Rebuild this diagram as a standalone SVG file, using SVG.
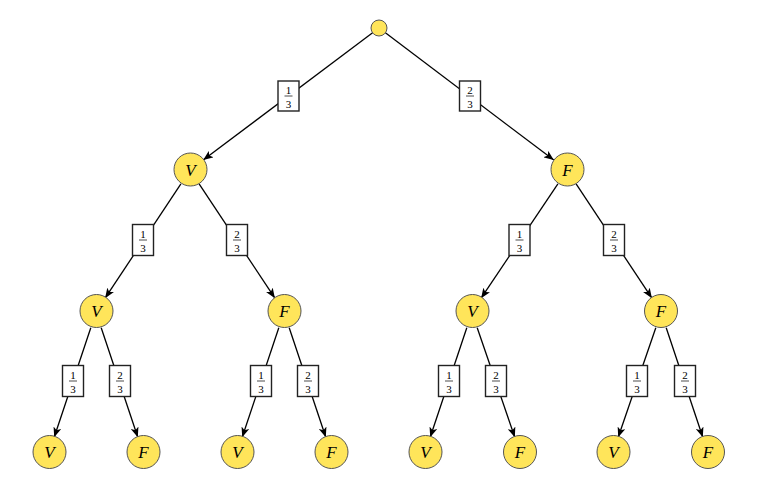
<svg xmlns="http://www.w3.org/2000/svg" width="763" height="488" viewBox="0 0 763 488">
<defs>
<marker id="arr" viewBox="0 0 10 8" refX="10" refY="4" markerWidth="10" markerHeight="8" markerUnits="userSpaceOnUse" orient="auto">
<path d="M0,0 L10,4 L0,8 L2.5,4 Z" fill="#000"/>
</marker>
</defs>
<style>
.n circle{fill:#FFE55A;stroke:#555;stroke-width:1}
.n text{font-family:"Liberation Serif",serif;font-style:italic;font-size:17px;text-anchor:middle;fill:#000}
.e line{stroke:#000;stroke-width:1.3;marker-end:url(#arr)}
.lb rect{fill:#fff;stroke:#222;stroke-width:1.4}
.lb text{font-family:"Liberation Serif",serif;font-size:11px;text-anchor:middle;fill:#000}
.lb line{stroke:#000;stroke-width:0.7}
</style>
<g id="connectors" class="e">
<line x1="372.6" y1="32.8" x2="203.2" y2="160.1"/>
<line x1="385.4" y1="32.8" x2="553.8" y2="160.1"/>
<line x1="180.9" y1="183.8" x2="105.1" y2="298.2"/>
<line x1="199.1" y1="183.8" x2="274.9" y2="298.2"/>
<line x1="557.9" y1="183.8" x2="481.1" y2="298.2"/>
<line x1="576.1" y1="183.8" x2="651.9" y2="298.2"/>
<line x1="90.8" y1="327.7" x2="54.2" y2="437.3"/>
<line x1="101.2" y1="327.7" x2="137.8" y2="437.3"/>
<line x1="278.8" y1="327.7" x2="242.2" y2="437.3"/>
<line x1="289.2" y1="327.7" x2="325.8" y2="437.3"/>
<line x1="466.8" y1="327.7" x2="430.2" y2="437.3"/>
<line x1="477.2" y1="327.7" x2="514.8" y2="437.3"/>
<line x1="655.8" y1="327.7" x2="618.2" y2="437.3"/>
<line x1="666.2" y1="327.7" x2="702.8" y2="437.3"/>
</g>
<g id="labels">
<g id="l-r1" class="lb" transform="translate(288.5,96)"><rect x="-10.5" y="-15" width="21" height="30"/><text y="-2.5">1</text><line x1="-4" x2="4" y1="0" y2="0"/><text y="11.5">3</text></g>
<g id="l-r2" class="lb" transform="translate(470,96)"><rect x="-10.5" y="-15" width="21" height="30"/><text y="-2.5">2</text><line x1="-4" x2="4" y1="0" y2="0"/><text y="11.5">3</text></g>
<g id="l-a1" class="lb" transform="translate(143,240)"><rect x="-10.5" y="-15.5" width="21" height="31"/><text y="-2.5">1</text><line x1="-4" x2="4" y1="0" y2="0"/><text y="11.5">3</text></g>
<g id="l-a2" class="lb" transform="translate(237,240)"><rect x="-10.5" y="-15.5" width="21" height="31"/><text y="-2.5">2</text><line x1="-4" x2="4" y1="0" y2="0"/><text y="11.5">3</text></g>
<g id="l-b1" class="lb" transform="translate(519.5,240)"><rect x="-10.5" y="-15.5" width="21" height="31"/><text y="-2.5">1</text><line x1="-4" x2="4" y1="0" y2="0"/><text y="11.5">3</text></g>
<g id="l-b2" class="lb" transform="translate(614,240)"><rect x="-10.5" y="-15.5" width="21" height="31"/><text y="-2.5">2</text><line x1="-4" x2="4" y1="0" y2="0"/><text y="11.5">3</text></g>
<g id="l-c1" class="lb" transform="translate(73,381)"><rect x="-10.5" y="-15.5" width="21" height="31"/><text y="-2.5">1</text><line x1="-4" x2="4" y1="0" y2="0"/><text y="11.5">3</text></g>
<g id="l-c2" class="lb" transform="translate(120,381)"><rect x="-10.5" y="-15.5" width="21" height="31"/><text y="-2.5">2</text><line x1="-4" x2="4" y1="0" y2="0"/><text y="11.5">3</text></g>
<g id="l-d1" class="lb" transform="translate(261,381)"><rect x="-10.5" y="-15.5" width="21" height="31"/><text y="-2.5">1</text><line x1="-4" x2="4" y1="0" y2="0"/><text y="11.5">3</text></g>
<g id="l-d2" class="lb" transform="translate(308,381)"><rect x="-10.5" y="-15.5" width="21" height="31"/><text y="-2.5">2</text><line x1="-4" x2="4" y1="0" y2="0"/><text y="11.5">3</text></g>
<g id="l-e1" class="lb" transform="translate(449,381)"><rect x="-10.5" y="-15.5" width="21" height="31"/><text y="-2.5">1</text><line x1="-4" x2="4" y1="0" y2="0"/><text y="11.5">3</text></g>
<g id="l-e2" class="lb" transform="translate(496,381)"><rect x="-10.5" y="-15.5" width="21" height="31"/><text y="-2.5">2</text><line x1="-4" x2="4" y1="0" y2="0"/><text y="11.5">3</text></g>
<g id="l-f1" class="lb" transform="translate(637,381)"><rect x="-10.5" y="-15.5" width="21" height="31"/><text y="-2.5">1</text><line x1="-4" x2="4" y1="0" y2="0"/><text y="11.5">3</text></g>
<g id="l-f2" class="lb" transform="translate(685,381)"><rect x="-10.5" y="-15.5" width="21" height="31"/><text y="-2.5">2</text><line x1="-4" x2="4" y1="0" y2="0"/><text y="11.5">3</text></g>
</g>
<g id="root" class="n"><circle cx="379" cy="28" r="8"/></g>
<g id="n-V" class="n"><circle cx="190.5" cy="169.5" r="16.5"/><text x="190.5" y="175.5">V</text></g>
<g id="n-F" class="n"><circle cx="567.5" cy="169.5" r="16.5"/><text x="567.5" y="175.5">F</text></g>
<g id="n-VV" class="n"><circle cx="96.5" cy="311" r="16.5"/><text x="96.5" y="317">V</text></g>
<g id="n-VF" class="n"><circle cx="284.5" cy="311" r="16.5"/><text x="284.5" y="317">F</text></g>
<g id="n-FV" class="n"><circle cx="472.5" cy="311" r="16.5"/><text x="472.5" y="317">V</text></g>
<g id="n-FF" class="n"><circle cx="661" cy="311" r="16.5"/><text x="661" y="317">F</text></g>
<g id="n-VVV" class="n"><circle cx="49.5" cy="452" r="16.5"/><text x="49.5" y="458">V</text></g>
<g id="n-VVF" class="n"><circle cx="143.5" cy="452" r="16.5"/><text x="143.5" y="458">F</text></g>
<g id="n-VFV" class="n"><circle cx="237.5" cy="452" r="16.5"/><text x="237.5" y="458">V</text></g>
<g id="n-VFF" class="n"><circle cx="331.5" cy="452" r="16.5"/><text x="331.5" y="458">F</text></g>
<g id="n-FVV" class="n"><circle cx="425.5" cy="452" r="16.5"/><text x="425.5" y="458">V</text></g>
<g id="n-FVF" class="n"><circle cx="520" cy="452" r="16.5"/><text x="520" y="458">F</text></g>
<g id="n-FFV" class="n"><circle cx="613.5" cy="452" r="16.5"/><text x="613.5" y="458">V</text></g>
<g id="n-FFF" class="n"><circle cx="708" cy="452" r="16.5"/><text x="708" y="458">F</text></g>
</svg>
